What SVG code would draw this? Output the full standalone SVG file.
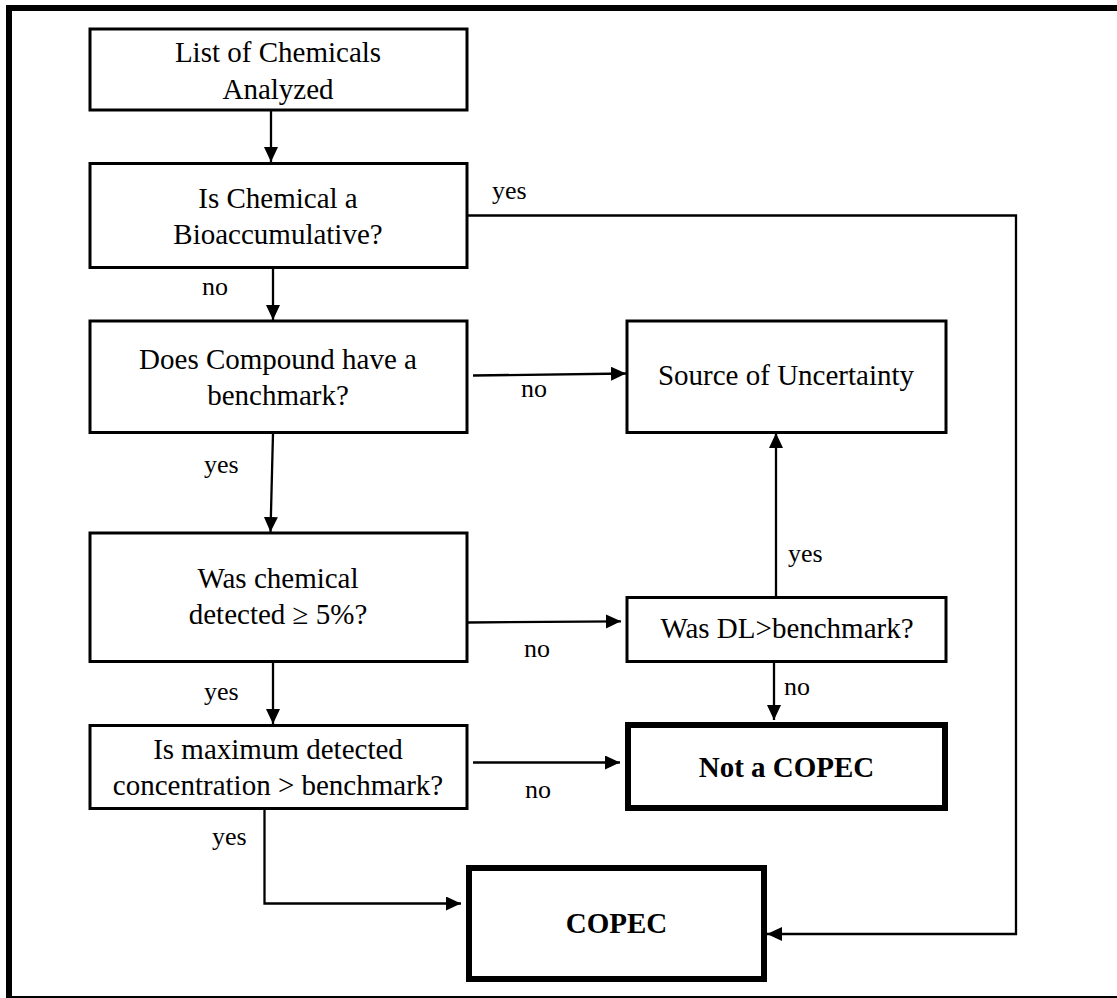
<svg xmlns="http://www.w3.org/2000/svg" width="1117" height="998" viewBox="0 0 1117 998">
<style>
.box{fill:#fff;stroke:#000;stroke-width:3}
.bold{fill:#fff;stroke:#000;stroke-width:6}
.t{font-family:"Liberation Serif","Times New Roman",serif;font-size:29px;fill:#000;text-anchor:middle}
.tb{font-family:"Liberation Serif","Times New Roman",serif;font-size:29px;font-weight:bold;fill:#000;text-anchor:middle}
.lb{font-family:"Liberation Serif","Times New Roman",serif;font-size:26px;fill:#000}
.c{fill:none;stroke:#000;stroke-width:2.3}
</style>
<defs>
<marker id="ah" markerUnits="userSpaceOnUse" markerWidth="16" markerHeight="15" refX="15" refY="7" orient="auto">
<path d="M0,0 L15,7 L0,14 z" fill="#000"/>
</marker>
</defs>
<rect width="1117" height="998" fill="#fff"/>
<g id="frame">
<path d="M9,998 V8 H1117" fill="none" stroke="#000" stroke-width="6" stroke-linecap="square"/>
<line x1="9" y1="997" x2="1117" y2="997" stroke="#000" stroke-width="2"/>
</g>
<g id="connectors">
<line class="c" x1="271" y1="111" x2="271" y2="162" marker-end="url(#ah)"/>
<line class="c" x1="273" y1="268" x2="273" y2="320" marker-end="url(#ah)"/>
<polyline class="c" points="465,215.5 1016,215.5 1016,934 767,934" marker-end="url(#ah)"/>
<line class="c" x1="473" y1="375.5" x2="626" y2="373.5" marker-end="url(#ah)"/>
<line class="c" x1="273" y1="433" x2="270.5" y2="532" marker-end="url(#ah)"/>
<line class="c" x1="467" y1="622.5" x2="621" y2="621.3" marker-end="url(#ah)"/>
<line class="c" x1="776" y1="597" x2="776" y2="433" marker-end="url(#ah)"/>
<line class="c" x1="774" y1="662" x2="774" y2="720" marker-end="url(#ah)"/>
<line class="c" x1="273" y1="662" x2="273" y2="724" marker-end="url(#ah)"/>
<line class="c" x1="473" y1="762.5" x2="620" y2="762.5" marker-end="url(#ah)"/>
<polyline class="c" points="264.5,808 264.5,903.5 461,903.5" marker-end="url(#ah)"/>
<text class="lb" x="492" y="198.5">yes</text>
<text class="lb" x="202" y="295">no</text>
<text class="lb" x="521" y="396.5">no</text>
<text class="lb" x="204" y="473">yes</text>
<text class="lb" x="788" y="562">yes</text>
<text class="lb" x="524" y="657">no</text>
<text class="lb" x="784" y="695">no</text>
<text class="lb" x="204" y="700">yes</text>
<text class="lb" x="525" y="798">no</text>
<text class="lb" x="212" y="845">yes</text>
</g>
<g id="n1">
<rect class="box" x="90" y="29" width="377" height="81"/>
<text class="t" x="278" y="62">List of Chemicals</text>
<text class="t" x="278" y="98.5">Analyzed</text>
</g>
<g id="n2">
<rect class="box" x="90" y="163.5" width="377" height="104"/>
<text class="t" x="278" y="207.5">Is Chemical a</text>
<text class="t" x="278" y="244">Bioaccumulative?</text>
</g>
<g id="n3">
<rect class="box" x="90" y="321" width="377" height="111.5"/>
<text class="t" x="278" y="368.5">Does Compound have a</text>
<text class="t" x="278" y="404.5">benchmark?</text>
</g>
<g id="n4">
<rect class="box" x="90" y="533" width="377" height="128.5"/>
<text class="t" x="278" y="587.5">Was chemical</text>
<text class="t" x="278" y="623.5">detected ≥ 5%?</text>
</g>
<g id="n5">
<rect class="box" x="90" y="725.5" width="377" height="83"/>
<text class="t" x="278" y="758.5">Is maximum detected</text>
<text class="t" x="278" y="795">concentration &gt; benchmark?</text>
</g>
<g id="n6">
<rect class="box" x="627" y="321" width="319" height="111.5"/>
<text class="t" x="786" y="385">Source of Uncertainty</text>
</g>
<g id="n7">
<rect class="box" x="627" y="597.5" width="319" height="64"/>
<text class="t" x="787" y="637.5">Was DL&gt;benchmark?</text>
</g>
<g id="n8">
<rect class="bold" x="628" y="725" width="317" height="83"/>
<text class="tb" x="786.5" y="777">Not a COPEC</text>
</g>
<g id="n9">
<rect class="bold" x="469" y="868" width="295" height="111"/>
<text class="tb" x="616.5" y="933">COPEC</text>
</g>
</svg>
